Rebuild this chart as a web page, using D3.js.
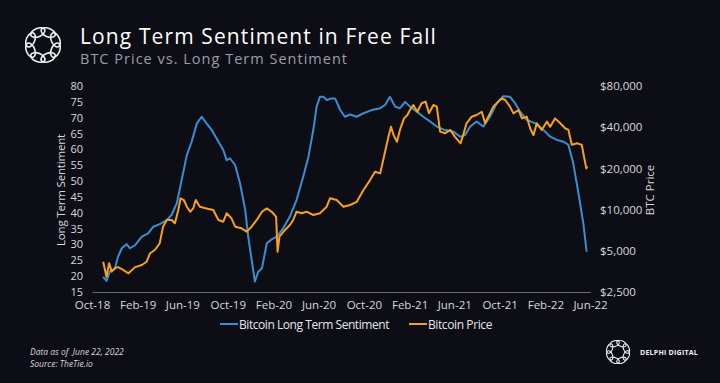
<!DOCTYPE html>
<html><head><meta charset="utf-8">
<script src="https://cdn.jsdelivr.net/npm/d3@7"></script>
<style>
html,body{margin:0;padding:0;background:#0c0d15;}
svg{display:block;}
text{font-family:"Open Sans",sans-serif;}
</style></head>
<body>
<svg id="c" width="720" height="383"></svg>
<script>
// ---------- DATA ----------
const sentDates = ["2018-10-31","2018-11-09","2018-11-18","2018-12-01","2018-12-10","2018-12-20","2019-01-02","2019-01-11","2019-01-25","2019-02-12","2019-03-01","2019-03-15","2019-04-01","2019-04-20","2019-05-03","2019-05-17","2019-05-30","2019-06-13","2019-06-26","2019-07-10","2019-07-23","2019-08-05","2019-08-19","2019-09-06","2019-09-19","2019-09-28","2019-10-07","2019-10-21","2019-11-03","2019-11-17","2019-11-25","2019-12-07","2019-12-13","2019-12-22","2020-01-01","2020-01-14","2020-01-27","2020-02-10","2020-02-27","2020-03-16","2020-04-03","2020-04-21","2020-05-05","2020-05-18","2020-05-27","2020-06-05","2020-06-14","2020-06-23","2020-07-07","2020-07-16","2020-07-29","2020-08-11","2020-08-25","2020-09-12","2020-09-30","2020-10-22","2020-11-14","2020-11-27","2020-12-10","2020-12-24","2021-01-06","2021-01-20","2021-02-02","2021-02-20","2021-03-10","2021-03-28","2021-04-15","2021-05-07","2021-05-30","2021-06-17","2021-06-30","2021-07-14","2021-07-31","2021-08-18","2021-09-05","2021-09-23","2021-10-11","2021-10-29","2021-11-12","2021-11-25","2021-12-13","2022-01-05","2022-01-27","2022-02-14","2022-03-04","2022-03-22","2022-04-04","2022-04-17","2022-05-01","2022-05-14","2022-05-23"];
const sentValues = [19.8,18.5,21.4,22.2,26.1,28.8,30.1,28.8,29.8,32.5,33.5,35.6,36.4,37.7,39.3,43,50.3,58.2,62.4,68.2,70.3,68.2,66.1,62.4,59.8,56.6,57.2,55,49.3,40.9,32.5,23,18.3,21.4,22.5,30.4,31.6,32.5,35.1,38.8,44,51.4,57.7,66.1,73.5,76.6,76.6,75.6,76.1,76,72.5,70.3,71,70.3,71.4,72.4,73,74,76.6,73.5,73,75,73.5,71.9,70.3,68.8,67.2,66.1,65.6,64,64.5,67.2,68.8,67.2,70.3,74.5,76.8,76.6,74.5,71.9,69.3,68.2,66.1,64,63,62.4,61.4,55.6,46.1,36.7,27.7];

const priceDates = ["2018-10-31","2018-11-05","2018-11-09","2018-11-16","2018-11-23","2018-12-01","2018-12-10","2018-12-24","2019-01-07","2019-01-25","2019-02-12","2019-02-25","2019-03-06","2019-03-19","2019-04-01","2019-04-10","2019-04-20","2019-05-03","2019-05-12","2019-05-21","2019-05-27","2019-06-05","2019-06-13","2019-06-22","2019-06-30","2019-07-07","2019-07-18","2019-08-05","2019-08-23","2019-09-06","2019-09-19","2019-09-28","2019-10-11","2019-10-21","2019-11-07","2019-11-21","2019-12-04","2019-12-18","2020-01-01","2020-01-14","2020-01-27","2020-02-08","2020-02-12","2020-02-17","2020-03-03","2020-03-16","2020-03-25","2020-04-03","2020-04-17","2020-04-30","2020-05-18","2020-06-05","2020-06-23","2020-07-02","2020-07-20","2020-08-07","2020-08-25","2020-09-12","2020-09-30","2020-10-18","2020-10-31","2020-11-14","2020-11-23","2020-12-06","2020-12-13","2020-12-20","2020-12-29","2021-01-06","2021-01-17","2021-01-26","2021-02-02","2021-02-11","2021-02-22","2021-03-05","2021-03-16","2021-03-25","2021-04-06","2021-04-15","2021-04-24","2021-05-07","2021-05-21","2021-06-03","2021-06-18","2021-06-25","2021-07-04","2021-07-18","2021-07-31","2021-08-14","2021-08-23","2021-09-03","2021-09-14","2021-09-23","2021-10-07","2021-10-16","2021-10-29","2021-11-07","2021-11-21","2021-11-30","2021-12-13","2021-12-22","2021-12-31","2022-01-09","2022-01-22","2022-02-05","2022-02-14","2022-02-27","2022-03-13","2022-03-26","2022-04-04","2022-04-13","2022-04-27","2022-05-10","2022-05-16","2022-05-22","2022-05-25"];
const priceValues = [4160,3620,3230,4050,3520,3725,3800,3620,3425,3800,3940,4160,4800,5070,5670,7500,8400,8400,7940,9930,12100,11750,10500,9650,10200,11750,10500,10200,9930,8400,8160,9400,8640,7500,7300,6900,7500,8400,9650,10200,9650,8880,4930,6340,7100,7720,8400,9650,9400,9650,9130,9400,10500,12100,11750,10500,10800,11400,13900,16500,18900,18400,23700,34000,40300,35000,31300,38200,46400,49100,53400,58100,51900,59800,61500,50500,58100,56500,37100,36100,38200,34000,30500,35000,42700,47700,49100,51900,42700,49100,56500,59800,65000,63200,56500,50500,53400,46400,47700,39300,35000,42700,38200,43900,40300,46400,42700,39300,38200,29700,30500,29700,24300,20000,20700];

const xTickLabels = ["2018-10-01","2019-02-01","2019-06-01","2019-10-01","2020-02-01","2020-06-01","2020-10-01","2021-02-01","2021-06-01","2021-10-01","2022-02-01","2022-06-01"];
const leftTicks = [15,20,25,30,35,40,45,50,55,60,65,70,75,80];
const rightTicks = [2500,5000,10000,20000,40000,80000];
const seriesNames = ["Bitcoin Long Term Sentiment","Bitcoin Price"];
const seriesColors = ["#3b8ed2","#f8a11a"];

// ---------- CHART ----------
const parse = d3.utcParse("%Y-%m-%d");
const svg = d3.select("#c");
const W = 720, H = 383;
svg.append("rect").attr("width",W).attr("height",H).attr("fill","#0c0d15");

function fit(sel, target){
  const len = sel.node().getComputedTextLength();
  const n = sel.text().length;
  sel.style("letter-spacing", ((target - len) / n) + "px");
  return sel;
}

const x = d3.scaleUtc().domain([parse("2018-10-01"), parse("2022-06-01")]).range([92,590]);
const yL = d3.scaleLinear().domain([15,80]).range([292,86]);
const yR = d3.scaleLog().base(2).domain([2500,80000]).range([292,86]);

const sent = sentDates.map((d,i)=>({date:parse(d), v:sentValues[i]}));
const price = priceDates.map((d,i)=>({date:parse(d), v:priceValues[i]}));

// axes
const axL = svg.append("g").attr("transform","translate(86,0)")
  .call(d3.axisLeft(yL).tickValues(leftTicks).tickSize(0).tickPadding(3));
axL.select(".domain").remove();
axL.selectAll("text").attr("fill","#d9d9dc").style("font-size","11px");

const fmt = d3.format("$,");
const axR = svg.append("g").attr("transform","translate(597,0)")
  .call(d3.axisRight(yR).tickValues(rightTicks).tickFormat(d=>fmt(d)).tickSize(0).tickPadding(3));
axR.select(".domain").remove();
axR.selectAll("text").attr("fill","#d9d9dc").style("font-size","11.5px");

const fmtX = d3.utcFormat("%b-%y");
const axX = svg.append("g").attr("transform","translate(0,292)")
  .call(d3.axisBottom(x).tickValues(xTickLabels.map(parse)).tickFormat(fmtX).tickSize(0).tickSizeOuter(0).tickPadding(9));
axX.select(".domain").attr("stroke","#6a6a70").attr("stroke-width",1);
axX.selectAll("text").attr("fill","#d9d9dc").style("font-size","11.5px");

// axis titles
fit(svg.append("text").attr("transform","translate(65,190) rotate(-90)").attr("text-anchor","middle")
  .attr("fill","#d9d9dc").style("font-size","11.5px").text("Long Term Sentiment"), 112);
svg.append("text").attr("transform","translate(654,190) rotate(-90)").attr("text-anchor","middle")
  .attr("fill","#d9d9dc").style("font-size","11.5px").text("BTC Price");

// lines
const lineL = d3.line().x(d=>x(d.date)).y(d=>yL(d.v));
const lineR = d3.line().x(d=>x(d.date)).y(d=>yR(d.v));
svg.append("path").datum(sent).attr("d",lineL).attr("fill","none")
  .attr("stroke",seriesColors[0]).attr("stroke-width",2).attr("stroke-linejoin","round");
svg.append("path").datum(price).attr("d",lineR).attr("fill","none")
  .attr("stroke",seriesColors[1]).attr("stroke-width",2).attr("stroke-linejoin","round");

// legend
const legX = [220,409];
const legW = [150,64];
seriesNames.forEach((n,i)=>{
  const g = svg.append("g").attr("transform",`translate(${legX[i]},324)`);
  g.append("line").attr("x1",0).attr("x2",18).attr("y1",0).attr("y2",0)
    .attr("stroke",seriesColors[i]).attr("stroke-width",2);
  fit(g.append("text").attr("x",19).attr("y",4.5).attr("fill","#e6e6e8")
    .style("font-size","12px").text(n), legW[i]);
});

// titles
fit(svg.append("text").attr("x",80).attr("y",44).attr("fill","#ffffff")
  .style("font-size","21px").text("Long Term Sentiment in Free Fall"), 357);
fit(svg.append("text").attr("x",80).attr("y",63.5).attr("fill","#9d9ea8")
  .style("font-size","14.5px").text("BTC Price vs. Long Term Sentiment"), 268);

// logo helper
function logo(cx, cy, r, rx, ry, sw){
  const g = svg.append("g").attr("transform",`translate(${cx},${cy})`);
  d3.range(8).forEach(k=>{
    const a = k*45 + 22.5;
    g.append("ellipse").attr("rx",rx).attr("ry",ry)
      .attr("transform",`rotate(${a}) translate(${r},0) rotate(90)`)
      .attr("fill","none").attr("stroke","#f2f2f2").attr("stroke-width",sw);
  });
}
logo(43,45,13.5,7.5,4.2,1.6);
logo(618,352,9,5,2.8,1.1);
fit(svg.append("text").attr("x",640).attr("y",355).attr("fill","#f2f2f2")
  .style("font-size","7px").style("font-weight","700").text("DELPHI DIGITAL"), 58);

// footer
svg.append("text").attr("x",30).attr("y",354.5).attr("fill","#d9d9dc")
  .style("font-size","8.5px").style("font-style","italic").style("white-space","pre").text("Data as of  June 22, 2022");
svg.append("text").attr("x",30).attr("y",366.5).attr("fill","#d9d9dc")
  .style("font-size","8.5px").style("font-style","italic").text("Source: TheTie.io");
</script>
</body></html>
